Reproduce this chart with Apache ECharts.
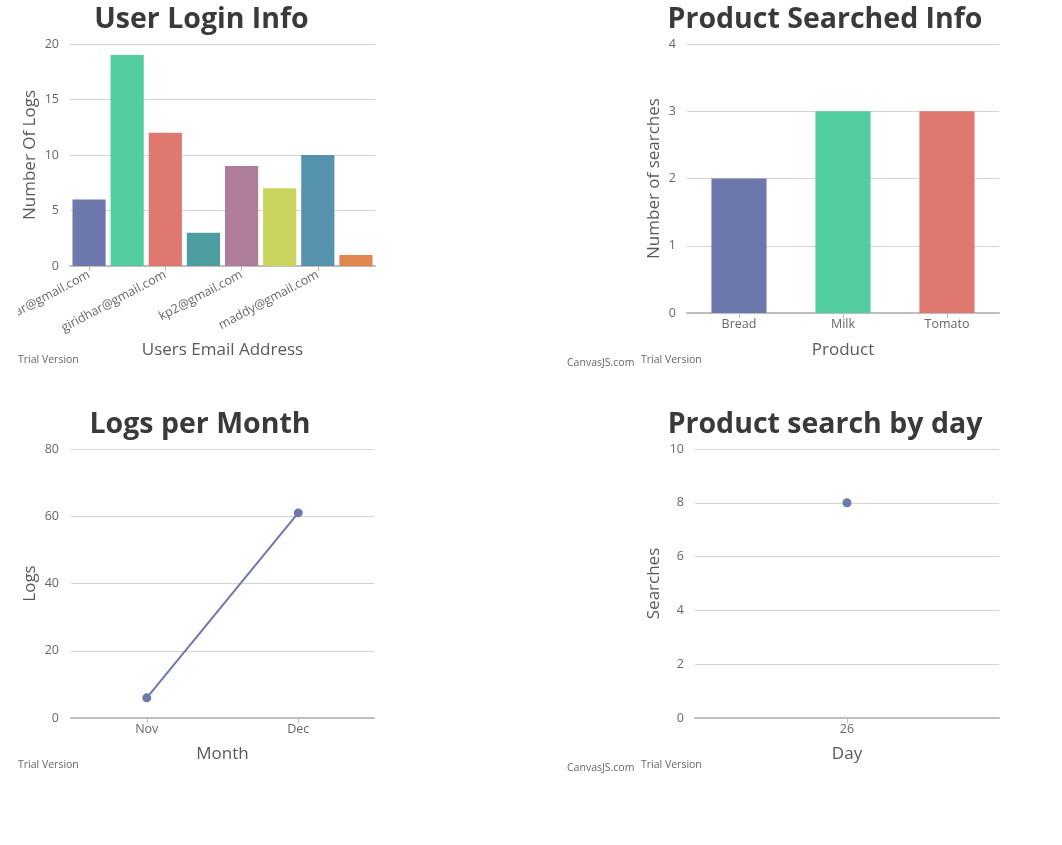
<!DOCTYPE html>
<html>
<head>
<meta charset="utf-8">
<script src="https://cdn.jsdelivr.net/npm/echarts@6/dist/echarts.min.js"></script>
<style>
  html, body { margin:0; padding:0; background:#fff; width:1062px; height:845px; overflow:hidden; }
  .c { position:absolute; width:370px; height:375px; }
  .wm { position:absolute; font-family: "Open Sans", "DejaVu Sans", sans-serif; font-size:10.5px; color:#666; white-space:nowrap; }
</style>
</head>
<body>
<div id="c1" class="c" style="left:18px; top:0px; width:367px;"></div>
<div id="c2" class="c" style="left:640px; top:0px;"></div>
<div id="c3" class="c" style="left:15px; top:405px;"></div>
<div id="c4" class="c" style="left:640px; top:405px;"></div>
<div class="wm" style="left:18px; top:352px;">Trial Version</div>
<div class="wm" style="left:641px; top:352px;">Trial Version</div>
<div class="wm" style="left:567px; top:355px;">CanvasJS.com</div>
<div class="wm" style="left:18px; top:757px;">Trial Version</div>
<div class="wm" style="left:641px; top:757px;">Trial Version</div>
<div class="wm" style="left:567px; top:760px;">CanvasJS.com</div>
<script>
// ---- data ----
const userEmails = ['ashokkumar@gmail.com','deepak@gmail.com','giridhar@gmail.com','john@gmail.com','kp2@gmail.com','kp3@gmail.com','maddy@gmail.com','ravi@gmail.com'];
const userLogs = [6, 19, 12, 3, 9, 7, 10, 1];

const products = ['Bread','Milk','Tomato'];
const productSearches = [2, 3, 3];

const months = ['Nov','Dec'];
const monthLogs = [6, 61];

const days = ['26'];
const daySearches = [8];

const palette = ['#6D78AD','#51CDA0','#DF7970','#4C9CA0','#AE7D99','#C9D45C','#5592AD','#DF874D'];

const FONT = '"Open Sans", "DejaVu Sans", sans-serif';
const gridColor = '#D4D4D4';
const axisColor = '#BEBEBE';
const labelColor = '#666';
const nameColor = '#5a5a5a';

function title(text) {
  return { text, left:'center', top:0,
    textStyle:{ fontFamily:FONT, fontSize:28.5, fontWeight:'bold', color:'#3A3A3A' } };
}
function grid(left, right, top, height) {
  return { left, right, top, height, containLabel:false, outerBoundsMode:'none' };
}
function yAxis(name, max, interval, gap, margin) {
  return { type:'value', min:0, max, interval, name, nameLocation:'middle', nameGap:gap,
    nameMoveOverlap:false,
    nameTextStyle:{ fontFamily:FONT, fontSize:17, color:nameColor },
    axisLine:{show:false}, axisTick:{show:false},
    axisLabel:{ fontFamily:FONT, fontSize:12.5, color:labelColor, margin:margin },
    splitLine:{ lineStyle:{ color:gridColor, width:1 } } };
}
function xAxis(name, data, gap, extra) {
  return Object.assign({ type:'category', data, name, nameLocation:'middle', nameGap:gap,
    nameMoveOverlap:false,
    nameTextStyle:{ fontFamily:FONT, fontSize:17, color:nameColor },
    axisLine:{ lineStyle:{ color:axisColor, width:2 } },
    axisTick:{ show:true, alignWithLabel:true, length:5, lineStyle:{ color:axisColor } },
    axisLabel:{ fontFamily:FONT, fontSize:12.5, color:labelColor, margin:5 },
    splitLine:{show:false} }, extra || {});
}

const c1 = echarts.init(document.getElementById('c1'));
c1.setOption({
  animation:false,
  title: title('User Login Info'),
  grid: grid(52, 10, 44, 222),
  xAxis: xAxis('Users Email Address', userEmails, 76, {
    axisLabel:{ fontFamily:FONT, fontSize:12.5, color:labelColor, margin:8, rotate:28, interval:1 },
    axisTick:{ show:true, alignWithLabel:true, length:5, interval:1, lineStyle:{ color:axisColor } } }),
  yAxis: yAxis('Number Of Logs', 20, 5, 31, 11),
  series:[{ type:'bar', data: userLogs.map((v,i)=>({ value:v, itemStyle:{ color: palette[i % palette.length] } })),
    barCategoryGap:'13%' }]
});

const c2 = echarts.init(document.getElementById('c2'));
c2.setOption({
  animation:false,
  title: title('Product Searched Info'),
  grid: grid(47, 11, 44, 269),
  xAxis: xAxis('Product', products, 29),
  yAxis: yAxis('Number of searches', 4, 1, 24, 11),
  series:[{ type:'bar', data: productSearches.map((v,i)=>({ value:v, itemStyle:{ color: palette[i % palette.length] } })),
    barCategoryGap:'47%' }]
});

const c3 = echarts.init(document.getElementById('c3'));
c3.setOption({
  animation:false,
  title: title('Logs per Month'),
  grid: grid(56, 11, 44, 269),
  xAxis: xAxis('Month', months, 28),
  yAxis: yAxis('Logs', 80, 20, 32, 12),
  series:[{ type:'line', data: monthLogs, symbol:'circle', symbolSize:9,
    lineStyle:{ color:'#6D78AD', width:2 }, itemStyle:{ color:'#6D78AD' } }]
});

const c4 = echarts.init(document.getElementById('c4'));
c4.setOption({
  animation:false,
  title: title('Product search by day'),
  grid: grid(55, 11, 44, 269),
  xAxis: xAxis('Day', days, 28),
  yAxis: yAxis('Searches', 10, 2, 32, 11),
  series:[{ type:'line', data: daySearches, symbol:'circle', symbolSize:9,
    lineStyle:{ color:'#6D78AD', width:2 }, itemStyle:{ color:'#6D78AD' } }]
});
</script>
</body>
</html>
